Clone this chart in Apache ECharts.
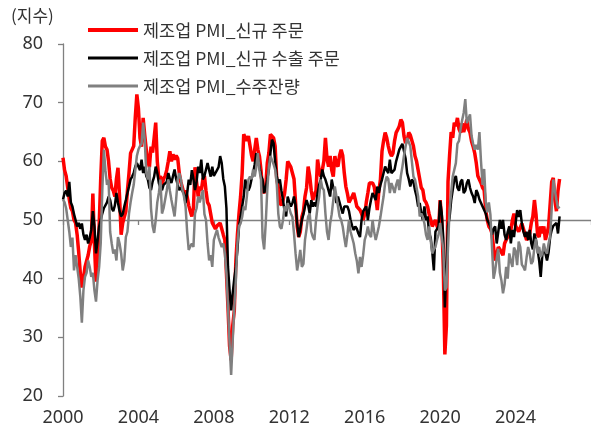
<!DOCTYPE html>
<html>
<head>
<meta charset="utf-8">
<script src="https://cdn.jsdelivr.net/npm/echarts@6/dist/echarts.min.js"></script>
<style>
html,body{margin:0;padding:0;background:#fff;}
#chart{width:591px;height:433px;}
</style>
</head>
<body>
<div id="chart"></div>
<script>
// Monthly data, starting January 2000
const startYear = 2000;
const seriesNames = ['제조업 PMI_신규 주문', '제조업 PMI_신규 수출 주문', '제조업 PMI_수주잔량'];
const xTicks = [2000, 2004, 2008, 2012, 2016, 2020, 2024];
const yTicks = [20, 30, 40, 50, 60, 70, 80];

const newOrders = [
 60.6,58.5,57.5,55.5,53.5,52,51.5,50,49.5,47.5,44.5,41,
 38.5,40,42,43,44,45.5,46.5,54.5,46,39.5,42,49,
 57,63.5,64,62.5,62,60,57,55.5,55,54,57,58.9,
 54,47.5,49.5,50.5,51.5,55,58,61.4,62,62.6,67.5,71.4,
 69,64,62.5,67.4,64.5,62,60,59,62.5,61.5,64,66.6,
 60,57,57.5,56,57,57.5,58.5,60,61.7,60,61.2,60.3,
 61,60.5,58,56.5,55.5,54.5,55,54,52.5,51.5,50.6,52,
 59,56.5,54,55.7,55,56.9,57.5,55,53,52.5,51,49.5,
 49.4,48.5,49,48.9,49.5,48.5,47.5,46.6,41,35,28.5,26.1,
 32,34.5,43,47.5,51.1,54,58,64.6,64.9,63.5,64.3,64.6,
 61,60,62,64,62,60.9,58.5,55,54.6,55.7,59.7,61.4,
 64.6,64.5,64,62.6,57,55.5,52.9,52.5,53.4,54.5,56.9,60,
 60,59,59.1,57,53,48.9,47.1,48,50.5,51.5,54,55.5,
 59.1,57.5,55,53.4,53.5,55,60.3,58.5,57.4,58.5,60,64,
 60.5,59.1,60.9,58.5,57.4,60.9,59.5,59.1,61,62,61,58,
 55.7,54.5,53,52.9,54,54.6,53.5,52.3,52,51.7,51.1,50,
 51,53,54.6,56.3,56,56.3,55.7,54,51.7,55,56.9,61.7,
 63.5,64.9,64,62.6,61.5,60.9,61.4,63.5,64.9,65.4,66,67.1,
 66.6,64.3,63.1,63.5,64.9,64.5,64.3,62.6,60.9,60,59.7,57,
 55.5,55.1,53.4,53,52.3,51,50,48.9,49.5,50,49,48.3,
 53.4,50,42,27.1,32,56.5,61,65,64,66.6,66,67.4,
 65.5,64.9,66.5,65,66,67.1,65.5,64.9,63.4,62.5,61.4,59.7,
 57.5,56.9,56.3,55.5,55.1,51.7,50,48.9,48.5,47.7,45.4,43.1,
 44,45.4,45,44.9,44,46,46.6,47.1,47.5,48.3,50,51.1,
 49,48.9,48,47.7,49.4,48.5,48.3,46.6,47,47.7,49.5,50.6,
 53.4,51,47.5,47.1,48.9,47.7,48.9,46.6,47.7,48.9,49,56.5,
 57.2,53.4,51.5,55,57
];

const exportOrders = [
 53.5,54.6,55,54,56.5,53,52.3,51,50,48.9,49.5,48.5,
 49.4,47.5,46.6,47.5,46,47,48.3,51.5,49,44.3,46.5,48.9,
 50,51.1,52,52.3,53,54,53.4,52,51.5,52.5,54.6,52.9,
 51.5,50.6,51,52.3,53.4,54.6,55.7,56.9,57.4,58,59.1,59.7,
 59.7,58.5,60.3,58,59.1,57.5,56.9,55.5,55.1,56.5,57.4,59.1,
 58,56.3,55.5,55.1,56,55.7,56.5,58,57,56.3,57.5,58.6,
 57,56,55.1,55.5,55.7,54.5,52.9,54.5,56.9,56,58.5,57,
 55.1,56.5,59.1,58,60.3,56.9,57.5,58.6,59.7,58.5,57.4,59.1,
 57.5,57.4,58.5,59,60.9,59.7,57,55.7,52,42,38,34.6,
 37.5,40,42,45,48.9,50.5,52.3,54,56.9,55.5,55,55.7,
 57,58,59.5,61.4,60.5,59.1,57.5,56.9,54.6,55.5,56.9,58.6,
 61.4,63.7,63.1,60,57.5,56.3,56.9,55,53.4,51.5,50.6,54,
 53,52.3,52.9,54,52.5,49.4,47.1,48.5,50,51,52.3,53.4,
 52.5,51.1,53.4,52.3,53,52.3,54.6,56,56.9,58.6,57.5,56.9,
 56,55.7,54,56.9,55.5,54.6,52.9,54,54,52,51.1,52.3,
 52,52.3,51.5,50,49,48.3,48.9,48.5,47.7,47.1,50,51.5,
 51.5,52.3,50,52,53.4,54.6,54,53.4,55.7,54.6,56,56.9,
 58,59.1,58.5,58,60.3,58,58,58.6,60,60.3,62,62.5,
 63,62.9,60.5,58,57,55.7,56.9,56.5,55.1,54,52.3,52.9,
 51.2,50,52.3,50,50.6,47.7,47,44.5,41.4,48,47.9,48.9,
 53.3,51.2,46.9,35.1,42,49,50.4,53.3,55.1,56.9,57.5,55.5,
 55,56.5,56.9,54.6,55,56.3,56.9,55.5,54.6,54,52.9,55.1,
 54.5,53.5,52.9,52.3,52.3,51.1,50,49.5,48.9,47.5,48.5,48.9,
 46,48,50,48.5,50,47.5,46.6,48,48.9,46,48.3,47.1,
 49.4,51.7,50.5,51.7,49.4,48,47.1,48,46.6,48.3,46,45,
 47.7,46.5,45,43.1,40.3,44,45.4,44.3,43.1,44.5,47.1,48.3,
 49,48.9,49.5,47.7,50.6
];

const backlog = [
 53.5,53,52,50,48,45.4,47,41.4,44,42,40,37,
 32.5,38,40.3,41,43.1,42,40.3,41,38,36.1,39.7,42,
 46,55,62,58.5,56,56.9,48,46,44.3,45,43.1,47.1,
 46,44.3,41.4,43,47.1,48,51.1,53,54.6,56,58.5,60.9,
 62,62.6,63,66.6,63.7,58,56.9,59.1,52,49,47.8,50,
 53,54.6,56.9,51.1,52,52.3,55,56.9,55,53.4,52,50.6,
 53.5,56.9,58,57,55.1,54,52.3,48,44.9,45.5,46,45.4,
 51.1,52,54,53,52.9,55.1,51,50,46,43.1,44,42,
 46.6,47.5,48.3,47,47.1,45.4,46,44.3,41,35,29,23.6,
 29.5,35,39.7,46,49,49.4,50.5,52.3,51.7,54,56.9,57.4,
 57,58.6,57.4,59,61.4,58.5,56.9,47,45,49.4,55.1,59.1,
 60.9,61,59.5,58.6,56.3,51.1,48.9,48.5,50,52.3,51.5,52.9,
 52,51.1,50.5,47.7,44.3,41.4,43,44.9,42,42.5,46.6,48.5,
 50.6,51.1,48,47.1,46.6,50,52.3,54,56.9,55.5,55.1,51.1,
 48,46.6,49.4,51,53.4,55.7,54,52.3,50.6,50,48.9,47,
 45.4,47.5,50,48,47.7,46,44.3,43,40.9,43.7,42,44,
 46.6,47.5,48.9,47.5,47.1,50,48,46.6,47.7,48.9,50.5,52.3,
 54,56.3,57.4,57,54.6,56.3,55.5,54.6,56,56.9,55.1,57.5,
 59.1,61,62.5,64,63.7,62.6,60,57.4,56.9,55.5,54,50.6,
 51.1,50.5,49.4,47.5,46.6,48.9,46.5,44.3,45,45.4,46.6,47.5,
 49.5,47.1,45,38,38.5,45.3,51.8,54.6,57.4,57.5,59.7,63,
 63.5,65.5,67,68.3,70.6,66.5,66.5,68,64.3,63,62,62.8,
 62,65,60,56,58.7,53.2,51.3,53,50.9,45.3,40,41.4,
 43.4,45.1,41,39.7,37.5,39,42,40,44.3,43,42,45.3,
 44.7,42.3,46.3,45.4,42.4,42,41.4,43.6,45.4,44.3,42.5,43,
 45.4,46.8,44.3,45.4,43.7,44.3,46,44.7,44.3,46,47.1,52,
 56.9,55.1,53.4,52,52.3
];

function toPairs(arr) {
  return arr.map((v, i) => [startYear + i / 12, v]);
}

const FONT = '"Noto Sans CJK KR", "Noto Sans", sans-serif';
const NUMFONT = '"Noto Sans", "Noto Sans CJK KR", sans-serif';
const chart = echarts.init(document.getElementById('chart'), null, {renderer: 'canvas'});

const option = {
  animation: false,
  backgroundColor: '#ffffff',
  textStyle: {fontFamily: FONT},
  grid: {left: 63, right: 0, top: 44, bottom: 37, containLabel: false},
  graphic: [{
    type: 'text', left: 11, top: 7,
    style: {text: '(지수)', font: '17px ' + FONT, fill: '#333'}
  }],
  legend: {
    orient: 'vertical', left: 88, top: 21, padding: 0,
    itemWidth: 50, itemHeight: 4, itemGap: 10,
    textStyle: {fontSize: 17.5, lineHeight: 18, color: '#333', fontFamily: FONT},
    data: [
      {name: seriesNames[0], icon: 'path://M0,0 L50,0 L50,4 L0,4 Z'},
      {name: seriesNames[1], icon: 'path://M0,0 L50,0 L50,3 L0,3 Z'},
      {name: seriesNames[2], icon: 'path://M0,0 L50,0 L50,3 L0,3 Z'}
    ]
  },
  xAxis: [{
    type: 'value', min: startYear, max: 2028, interval: 4,
    position: 'bottom',
    axisLine: {show: false}, axisTick: {show: false}, splitLine: {show: false},
    axisLabel: {
      fontSize: 18, color: '#333', margin: 13, fontFamily: NUMFONT,
      showMaxLabel: false,
      formatter: v => (xTicks.indexOf(Math.round(v)) >= 0 ? String(Math.round(v)) : '')
    }
  }, {
    type: 'value', min: startYear, max: 2028, interval: 4,
    position: 'bottom', offset: -176,
    axisLine: {show: true, lineStyle: {color: '#808080', width: 1.3}},
    axisTick: {show: true, length: 5, lineStyle: {color: '#808080', width: 1.3}},
    axisLabel: {show: false}, splitLine: {show: false}
  }],
  yAxis: {
    type: 'value', min: yTicks[0], max: yTicks[yTicks.length - 1], interval: 10,
    axisLine: {show: true, lineStyle: {color: '#808080', width: 1.3}},
    axisTick: {show: true, length: 5, lineStyle: {color: '#808080', width: 1.3}},
    splitLine: {show: false},
    axisLabel: {fontSize: 18, color: '#333', margin: 20, fontFamily: NUMFONT}
  },
  series: [
    {name: seriesNames[0], type: 'line', xAxisIndex: 0, data: toPairs(newOrders),
     showSymbol: false, symbol: 'none', color: '#ff0000',
     lineStyle: {width: 3.5, color: '#ff0000'}},
    {name: seriesNames[1], type: 'line', xAxisIndex: 0, data: toPairs(exportOrders),
     showSymbol: false, symbol: 'none', color: '#000000',
     lineStyle: {width: 2.5, color: '#000000'}},
    {name: seriesNames[2], type: 'line', xAxisIndex: 0, data: toPairs(backlog),
     showSymbol: false, symbol: 'none', color: '#808080',
     lineStyle: {width: 2.5, color: '#808080'}}
  ]
};
chart.setOption(option);
</script>
</body>
</html>
